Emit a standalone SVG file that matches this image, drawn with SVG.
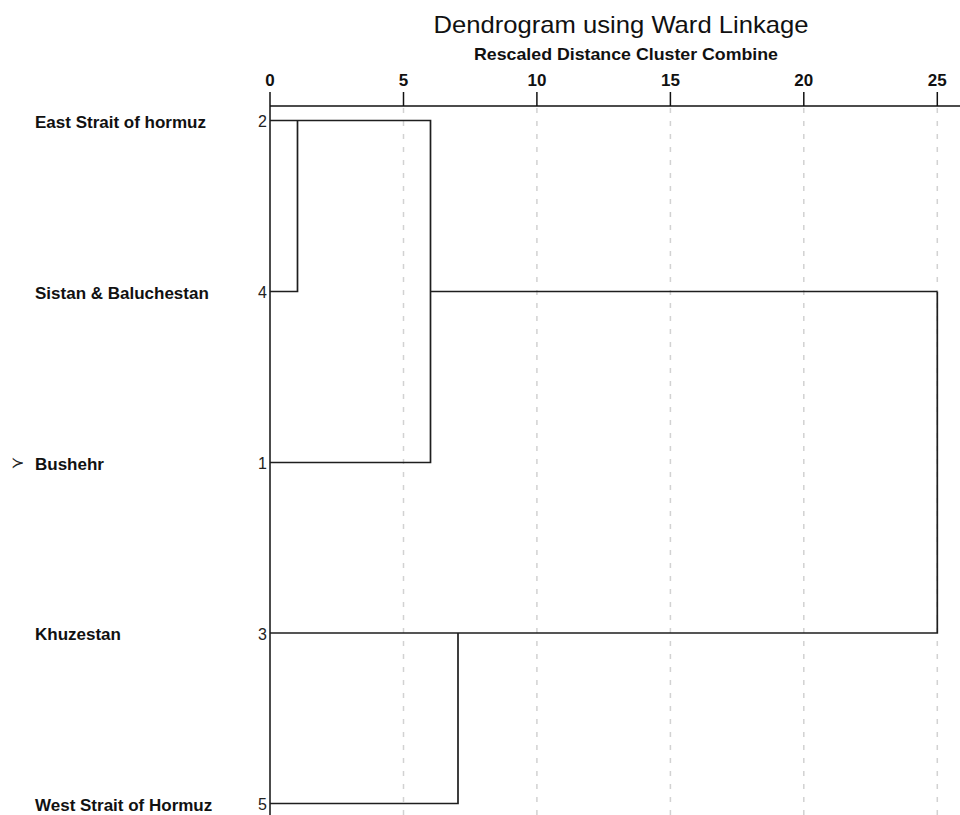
<svg xmlns="http://www.w3.org/2000/svg" width="960" height="815" viewBox="0 0 960 815">
<style>
.bg{fill:#ffffff}
.lbl{font-family:"Liberation Sans",Arial,sans-serif;font-weight:bold;font-size:17px;fill:#111}
.num{font-family:"Liberation Sans",Arial,sans-serif;font-size:16px;fill:#222;text-anchor:end}
.tick{font-family:"Liberation Sans",Arial,sans-serif;font-weight:bold;font-size:17px;fill:#111;text-anchor:middle}
.title{font-family:"Liberation Sans",Arial,sans-serif;font-size:24px;fill:#111;text-anchor:middle}
.sub{font-family:"Liberation Sans",Arial,sans-serif;font-weight:bold;font-size:17px;fill:#111;text-anchor:middle}
.grid{stroke:#d2d2d2;stroke-width:1.5;stroke-dasharray:5 8;fill:none}
.axis{stroke:#111;stroke-width:1.5;fill:none}
.link{stroke:#1e1e1e;stroke-width:1.7;fill:none}
.mark{font-family:"DejaVu Sans",sans-serif;font-size:16px;fill:#222}
</style>
<rect class="bg" x="0" y="0" width="960" height="815"/>
<g id="title">
<text class="title" x="621" y="33" textLength="375" lengthAdjust="spacingAndGlyphs">Dendrogram using Ward Linkage</text>
<text class="sub" x="626" y="60" textLength="304" lengthAdjust="spacingAndGlyphs">Rescaled Distance Cluster Combine</text>
</g>
<g id="grid">
<line class="grid" x1="403.5" y1="108" x2="403.5" y2="815"/>
<line class="grid" x1="536.9" y1="108" x2="536.9" y2="815"/>
<line class="grid" x1="670.4" y1="108" x2="670.4" y2="815"/>
<line class="grid" x1="803.8" y1="108" x2="803.8" y2="815"/>
<line class="grid" x1="937.3" y1="108" x2="937.3" y2="815"/>
</g>
<g id="axis">
<line class="axis" x1="270" y1="106" x2="960" y2="106"/>
<line class="axis" x1="270" y1="92" x2="270" y2="815"/>
<line class="axis" x1="403.5" y1="92" x2="403.5" y2="106"/>
<line class="axis" x1="536.9" y1="92" x2="536.9" y2="106"/>
<line class="axis" x1="670.4" y1="92" x2="670.4" y2="106"/>
<line class="axis" x1="803.8" y1="92" x2="803.8" y2="106"/>
<line class="axis" x1="937.3" y1="92" x2="937.3" y2="106"/>
<text class="tick" x="270" y="86">0</text>
<text class="tick" x="403.5" y="86">5</text>
<text class="tick" x="536.9" y="86">10</text>
<text class="tick" x="670.4" y="86">15</text>
<text class="tick" x="803.8" y="86">20</text>
<text class="tick" x="937.3" y="86">25</text>
</g>
<g id="node-2">
<text class="lbl" x="35" y="127.5">East Strait of hormuz</text>
<text class="num" x="267" y="127">2</text>
</g>
<g id="node-4">
<text class="lbl" x="35" y="298.5">Sistan &amp; Baluchestan</text>
<text class="num" x="267" y="298">4</text>
</g>
<g id="node-1">
<text class="mark" x="11" y="468">≻</text>
<text class="lbl" x="35" y="469.5">Bushehr</text>
<text class="num" x="267" y="469">1</text>
</g>
<g id="node-3">
<text class="lbl" x="35" y="640">Khuzestan</text>
<text class="num" x="267" y="639.5">3</text>
</g>
<g id="node-5">
<text class="lbl" x="35" y="810.5">West Strait of Hormuz</text>
<text class="num" x="267" y="810">5</text>
</g>
<g id="connectors">
<polyline class="link" points="270,120.5 430.5,120.5 430.5,462.5 270,462.5"/>
<polyline class="link" points="297.5,120.5 297.5,291.5 270,291.5"/>
<line class="link" x1="430.5" y1="291.5" x2="937.3" y2="291.5"/>
<polyline class="link" points="937.3,291.5 937.3,633 270,633"/>
<polyline class="link" points="458,633 458,803.5 270,803.5"/>
</g>
</svg>
